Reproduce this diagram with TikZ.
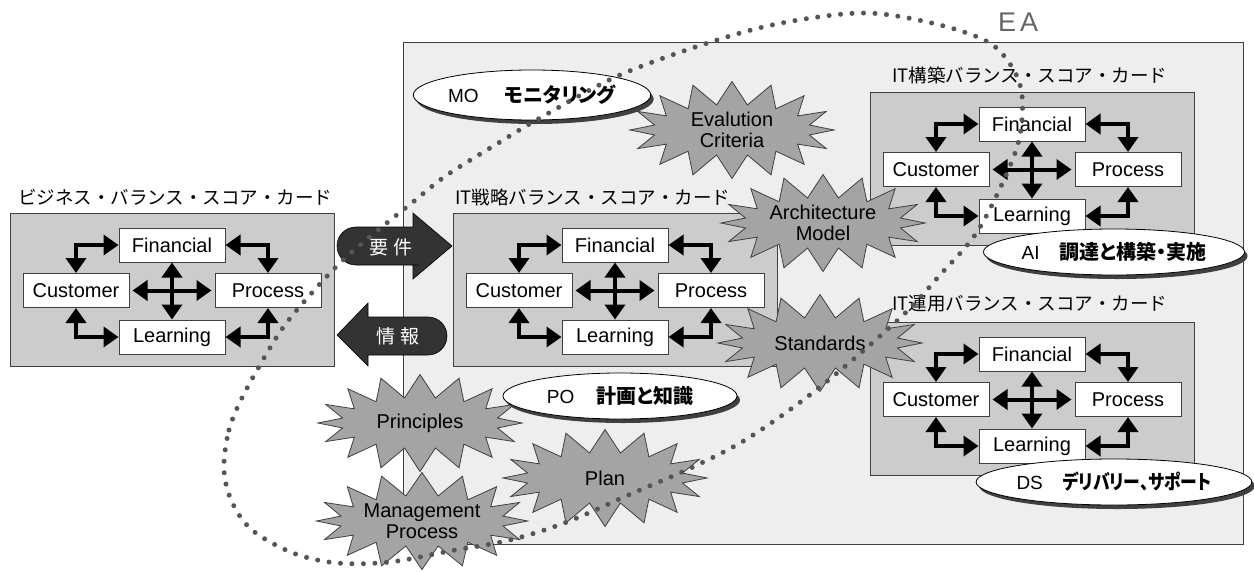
\documentclass[tikz,border=0pt]{standalone}
\usepackage{fontspec}
\setmainfont{Liberation Sans}
\newfontfamily\jp{Noto Sans CJK JP}
\newfontfamily\jpp[RawFeature=+palt]{Noto Sans CJK JP}
\usetikzlibrary{shapes.symbols,shapes.geometric,shadows,arrows.meta}
\definecolor{bgc}{HTML}{EEEEEE}
\definecolor{boxc}{HTML}{CCCCCC}
\definecolor{starc}{HTML}{A4A4A4}
\definecolor{linec}{HTML}{404040}
\definecolor{dotc}{HTML}{555555}
\definecolor{blockc}{HTML}{333333}
\definecolor{eac}{HTML}{666666}
\newcommand\jb{\jpp\bfseries\fontsize{20}{22}\selectfont}
\tikzset{
  sbox/.style={draw=linec, line width=1pt, fill=white, minimum width=106pt, minimum height=34pt, inner sep=0pt, font=\fontsize{20}{22}\selectfont},
  gbox/.style={draw=linec, line width=1pt, fill=boxc, anchor=north west, minimum width=324pt, minimum height=153pt, inner sep=0pt},
  bscarrow/.style={line width=4pt, {Triangle[length=15pt,width=20pt]}-{Triangle[length=15pt,width=20pt]}},
  burst/.style={starburst, starburst points=16, starburst point height=23pt, random starburst=0, draw=linec, line width=0.8pt, fill=starc, align=center, font=\fontsize{20}{21}\selectfont, inner sep=0pt, minimum width=204pt, minimum height=97pt},
  oval/.style={ellipse, draw=black, line width=0.8pt, fill=white, drop shadow={shadow xshift=3pt, shadow yshift=-4pt, fill=black!75, opacity=1}, inner sep=0pt, minimum width=234pt, minimum height=46pt, font=\fontsize{19}{21}\selectfont},
  ttl/.style={anchor=west, font=\jp\fontsize{18.5}{20}\selectfont, inner sep=0pt},
  blockarrow/.style={fill=blockc, draw=black, line width=0.6pt},
  blocktext/.style={text=white, font=\jp\fontsize{19}{20}\selectfont, inner sep=0pt},
  eadots/.style={draw=dotc, line width=5pt, line cap=round, dash pattern=on 0pt off 11.5pt}
}
\newcommand\bscbox[3]{%
  \begin{scope}[shift={(#2,#3)}]
    \node[gbox] (#1box) at (0,0) {};
    \node[sbox] (#1F) at (162,32) {Financial};
    \node[sbox] (#1C) at (66,77.5) {Customer};
    \node[sbox] (#1P) at (258,77.5) {Process};
    \node[sbox] (#1L) at (162,124) {Learning};
    \draw[bscarrow] (#1F.west) -| (#1C.north);
    \draw[bscarrow] (#1F.east) -| (#1P.north);
    \draw[bscarrow] (#1L.west) -| (#1C.south);
    \draw[bscarrow] (#1L.east) -| (#1P.south);
    \draw[bscarrow, shorten <=3pt, shorten >=3pt] (#1C.east) -- (#1P.west);
    \draw[bscarrow] (#1F.south) -- (#1L.north);
  \end{scope}}
\begin{document}
\begin{tikzpicture}[x=1pt,y=-1pt]
\useasboundingbox (0,0) rectangle (1254,571);
% background panel
\node[draw=linec, line width=1pt, fill=bgc, anchor=north west, minimum width=840pt, minimum height=502pt, inner sep=0pt] (panel) at (403,42) {};
% balanced score cards
\bscbox{b}{10}{213}
\bscbox{s}{453}{213}
\bscbox{k}{870}{92}
\bscbox{u}{870}{322}
% titles
\node[ttl] (tb) at (18,197) {ビジネス・バランス・スコア・カード};
\node[ttl] (ts) at (455,197) {IT戦略バランス・スコア・カード};
\node[ttl] (tk) at (892,75) {IT構築バランス・スコア・カード};
\node[ttl] (tu) at (892,304) {IT運用バランス・スコア・カード};
% block arrows
\path[blockarrow] (400,227) [rounded corners=19pt] -- (337,227) -- (337,265) -- (400,265) [sharp corners] -- (413,265) -- (413,279) -- (452,246) -- (413,213) -- (413,227) -- cycle;
\node[blocktext] (req) at (391,247) {要 件};
\path[blockarrow] (400,317) [rounded corners=19pt] -- (447,317) -- (447,355) -- (400,355) [sharp corners] -- (368,355) -- (368,366) -- (337,335) -- (368,303) -- (368,317) -- cycle;
\node[blocktext] (info) at (398,336) {情 報};
% starbursts
\node[burst] (ev) at (732,130) {Evalution\\Criteria};
\node[burst] (arch) at (823,223) {Architecture\\Model};
\node[burst] (std) at (820,343) {Standards};
\node[burst] (prin) at (420,423) {Principles};
\node[burst] (plan) at (605,478) {Plan};
\node[burst] (mgmt) at (422,521) {Management\\Process};
% ovals
\node[oval, minimum height=50pt] (mo) at (532,95) {MO\hspace{26pt}{\jb モニタリング}};
\node[oval] (ai) at (1114,252) {AI\hspace{20pt}{\jb 調達と構築・実施}};
\node[oval] (ds) at (1114,482) {DS\hspace{20pt}\scalebox{0.84}[1]{\jb デリバリー、サポート}};
\node[oval] (po) at (620,396) {PO\hspace{22pt}{\jb 計画と知識}};
% EA dotted boundary
\draw[eadots] plot[smooth cycle, tension=0.55] coordinates {
 (224,470) (229,430) (245,392) (280,332) (310,295) (342,261) (377,231)
 (413,202) (447,175) (500,142) (540,118) (620,75) (717,40) (787,22)
 (866,13) (936,24) (988,42) (1012,67) (1022,95) (1020,135) (1007,173)
 (977,232) (940,275) (900,318) (820,387) (750,437) (693,467) (633,493)
 (567,522) (510,540) (450,551) (390,562) (337,563) (293,553) (252,530) (232,502)};
\node[text=eac, font=\fontsize{27}{30}\selectfont, inner sep=0pt] (ea) at (1018,22) {E\hspace{4pt}A};
\end{tikzpicture}
\end{document}
